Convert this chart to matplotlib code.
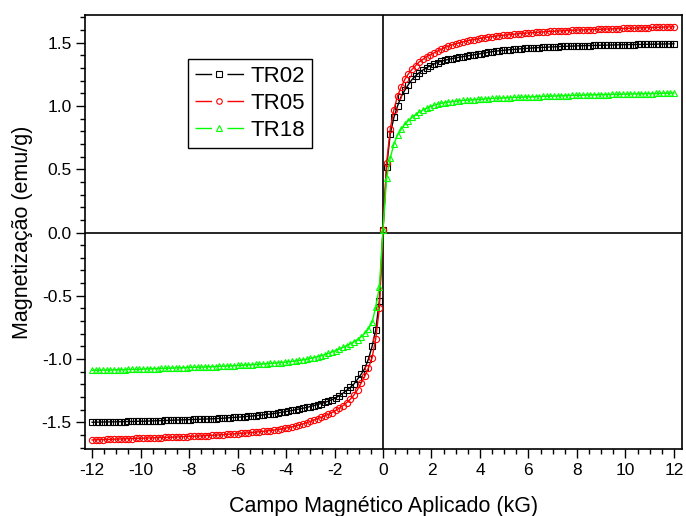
import matplotlib.pyplot as plt
from matplotlib.lines import Line2D
from matplotlib.ticker import MultipleLocator, FormatStrFormatter
import numpy as np

plt.rcParams["font.family"] = ["Liberation Sans", "DejaVu Sans"]
plt.rcParams["axes.unicode_minus"] = False

# applied field (kG), measured every 0.15 kG from -12 to 12
field = np.linspace(-12, 12, 161)

# magnetization (emu/g), negative branch then positive branch
tr02 = [
    -1.500, -1.499, -1.499, -1.498, -1.498, -1.497, -1.497, -1.496, -1.496, -1.495,
    -1.494, -1.494, -1.493, -1.492, -1.492, -1.491, -1.490, -1.489, -1.488, -1.487,
    -1.486, -1.485, -1.484, -1.483, -1.482, -1.481, -1.480, -1.479, -1.478, -1.477,
    -1.476, -1.475, -1.474, -1.473, -1.471, -1.470, -1.468, -1.466, -1.464, -1.462,
    -1.460, -1.458, -1.456, -1.453, -1.451, -1.448, -1.445, -1.442, -1.438, -1.435,
    -1.431, -1.427, -1.422, -1.417, -1.412, -1.407, -1.401, -1.395, -1.389, -1.383,
    -1.376, -1.368, -1.360, -1.352, -1.343, -1.333, -1.321, -1.307, -1.290, -1.270,
    -1.248, -1.225, -1.198, -1.160, -1.120, -1.075, -1.000, -0.900, -0.770, -0.540,
    0.020, 0.520, 0.780, 0.910, 1.000, 1.075, 1.125, 1.170, 1.210, 1.240,
    1.265, 1.285, 1.303, 1.318, 1.332, 1.344, 1.354, 1.362, 1.369, 1.375,
    1.381, 1.386, 1.391, 1.396, 1.400, 1.405, 1.410, 1.415, 1.420, 1.425,
    1.430, 1.434, 1.437, 1.440, 1.443, 1.446, 1.448, 1.450, 1.453, 1.455,
    1.457, 1.459, 1.461, 1.462, 1.464, 1.465, 1.467, 1.468, 1.469, 1.471,
    1.472, 1.473, 1.474, 1.475, 1.476, 1.477, 1.478, 1.478, 1.479, 1.480,
    1.481, 1.481, 1.482, 1.483, 1.483, 1.484, 1.485, 1.485, 1.486, 1.486,
    1.487, 1.487, 1.488, 1.488, 1.489, 1.489, 1.490, 1.490, 1.491, 1.491,
    1.492,
]

tr05 = [
    -1.640, -1.639, -1.638, -1.637, -1.636, -1.635, -1.634, -1.633, -1.632, -1.631,
    -1.630, -1.629, -1.628, -1.627, -1.626, -1.625, -1.624, -1.623, -1.622, -1.621,
    -1.620, -1.619, -1.618, -1.617, -1.615, -1.614, -1.613, -1.612, -1.611, -1.609,
    -1.608, -1.606, -1.605, -1.603, -1.602, -1.600, -1.598, -1.596, -1.594, -1.592,
    -1.590, -1.588, -1.586, -1.584, -1.581, -1.578, -1.575, -1.572, -1.569, -1.566,
    -1.562, -1.558, -1.554, -1.548, -1.542, -1.536, -1.529, -1.521, -1.513, -1.504,
    -1.494, -1.483, -1.472, -1.461, -1.449, -1.437, -1.423, -1.406, -1.388, -1.368,
    -1.345, -1.318, -1.285, -1.242, -1.190, -1.135, -1.070, -0.990, -0.840, -0.600,
    0.020, 0.550, 0.820, 0.970, 1.080, 1.150, 1.210, 1.255, 1.290, 1.320,
    1.350, 1.370, 1.390, 1.405, 1.420, 1.435, 1.449, 1.462, 1.474, 1.484,
    1.492, 1.500, 1.507, 1.514, 1.520, 1.526, 1.531, 1.536, 1.541, 1.545,
    1.549, 1.553, 1.556, 1.559, 1.562, 1.565, 1.568, 1.571, 1.573, 1.575,
    1.578, 1.580, 1.582, 1.584, 1.586, 1.588, 1.590, 1.591, 1.593, 1.594,
    1.596, 1.597, 1.599, 1.600, 1.601, 1.602, 1.603, 1.604, 1.605, 1.606,
    1.607, 1.608, 1.609, 1.610, 1.611, 1.612, 1.613, 1.614, 1.615, 1.616,
    1.617, 1.618, 1.619, 1.620, 1.621, 1.622, 1.623, 1.624, 1.625, 1.626,
    1.627,
]

tr18 = [
    -1.090, -1.089, -1.089, -1.088, -1.087, -1.087, -1.086, -1.085, -1.085, -1.084,
    -1.083, -1.082, -1.082, -1.081, -1.080, -1.079, -1.078, -1.077, -1.076, -1.075,
    -1.074, -1.073, -1.072, -1.071, -1.070, -1.069, -1.068, -1.067, -1.066, -1.065,
    -1.064, -1.063, -1.062, -1.061, -1.060, -1.058, -1.057, -1.056, -1.054, -1.053,
    -1.051, -1.050, -1.048, -1.047, -1.045, -1.043, -1.041, -1.039, -1.037, -1.035,
    -1.033, -1.030, -1.028, -1.025, -1.022, -1.019, -1.015, -1.011, -1.007, -1.002,
    -0.996, -0.989, -0.982, -0.974, -0.965, -0.955, -0.944, -0.933, -0.921, -0.908,
    -0.895, -0.880, -0.864, -0.846, -0.824, -0.797, -0.762, -0.710, -0.590, -0.430,
    0.020, 0.430, 0.590, 0.700, 0.770, 0.815, 0.855, 0.885, 0.910, 0.932,
    0.952, 0.968, 0.982, 0.995, 1.006, 1.015, 1.022, 1.027, 1.031, 1.035,
    1.038, 1.041, 1.044, 1.046, 1.048, 1.050, 1.052, 1.054, 1.056, 1.058,
    1.060, 1.061, 1.063, 1.064, 1.065, 1.067, 1.068, 1.069, 1.070, 1.071,
    1.072, 1.073, 1.074, 1.075, 1.076, 1.077, 1.078, 1.079, 1.080, 1.081,
    1.082, 1.083, 1.084, 1.085, 1.085, 1.086, 1.087, 1.088, 1.088, 1.089,
    1.090, 1.090, 1.091, 1.092, 1.092, 1.093, 1.094, 1.094, 1.095, 1.096,
    1.096, 1.097, 1.098, 1.098, 1.099, 1.100, 1.100, 1.101, 1.102, 1.102,
    1.103,
]

labels = ["TR02", "TR05", "TR18"]
colors = ["black", "red", "#00ff00"]
markers = ["s", "o", "^"]

fig = plt.figure(figsize=(6.86, 5.16), dpi=100)
ax = fig.add_axes([0.124, 0.129, 0.870, 0.842])

ax.axhline(0, color="black", lw=1.2, zorder=1)
ax.axvline(0, color="black", lw=1.2, zorder=1)

handles = []
for m, color, marker in zip([tr02, tr05, tr18], colors, markers):
    assert len(m) == len(field)
    ax.plot(field, m, color=color, lw=1, marker=marker, ms=4.5,
            mfc="none", mec=color, mew=0.8, zorder=2)
    seg = Line2D([], [], color=color, lw=1, linestyle=(0, (12, 11, 12, 100)))
    mk = Line2D([], [], color=color, marker=marker, ms=4, mfc="none",
                mew=0.8, linestyle="none")
    handles.append((seg, mk))

leg = ax.legend(handles, labels, loc="upper left", bbox_to_anchor=(0.1725, 0.899),
                borderaxespad=0, fontsize=16, handlelength=2.2, handletextpad=0.3,
                borderpad=0.3, labelspacing=0.28, fancybox=False,
                edgecolor="black", framealpha=1)
leg.get_frame().set_linewidth(1.0)

ax.set_xlim(-12.29, 12.33)
ax.set_ylim(-1.715, 1.72)
ax.xaxis.set_major_locator(MultipleLocator(2))
ax.xaxis.set_minor_locator(MultipleLocator(0.5))
ax.yaxis.set_major_locator(MultipleLocator(0.5))
ax.yaxis.set_minor_locator(MultipleLocator(0.1))
ax.yaxis.set_major_formatter(FormatStrFormatter("%.1f"))
ax.tick_params(which="major", direction="out", length=6.5, width=1,
               labelsize=12.5, pad=3)
ax.tick_params(which="minor", direction="out", length=3.3, width=1)
for s in ax.spines.values():
    s.set_linewidth(1.2)

ax.set_xlabel("Campo Magnético Aplicado (kG)", fontsize=15.5, labelpad=13)
ax.set_ylabel("Magnetização (emu/g)", fontsize=15.5, labelpad=6)

fig.savefig("out.png", dpi=100)
